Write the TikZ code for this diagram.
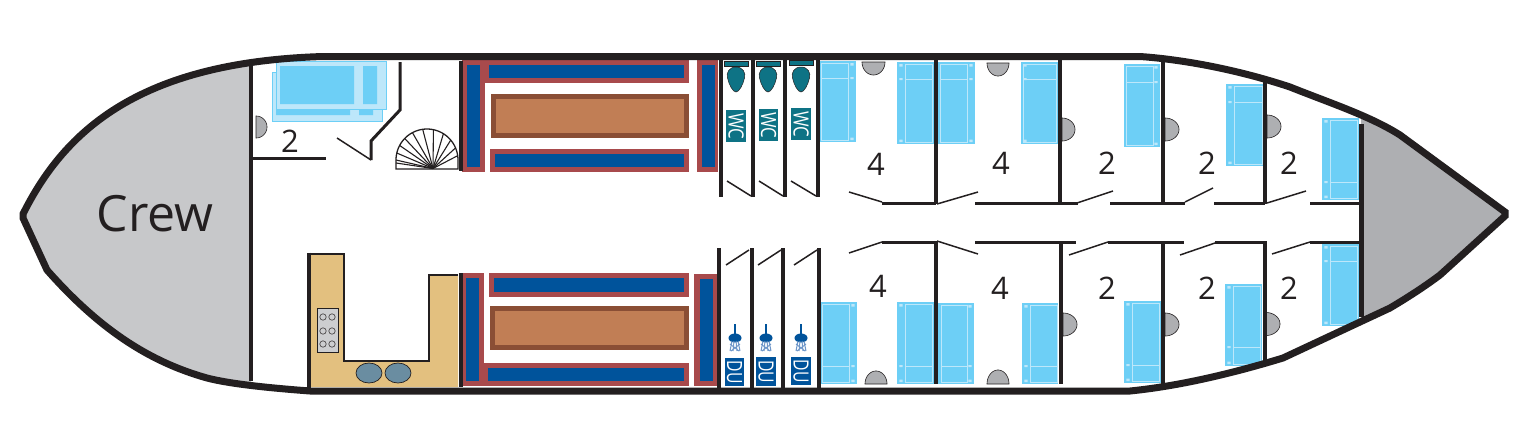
\documentclass[tikz,border=0pt]{standalone}
\usepackage{fontspec}
\setmainfont{Open Sans}
\definecolor{ink}{HTML}{231F20}
\definecolor{crewgrey}{HTML}{C7C8CA}
\definecolor{bowgrey}{HTML}{AEAFB2}
\definecolor{bedblue}{HTML}{6DCFF6}
\definecolor{bedpale}{HTML}{BDE7FA}
\definecolor{benchred}{HTML}{A84A4C}
\definecolor{cushion}{HTML}{00539B}
\definecolor{tableedge}{HTML}{8A4E35}
\definecolor{tabletop}{HTML}{C17E55}
\definecolor{teal}{HTML}{0E7385}
\definecolor{galley}{HTML}{E3C07F}
\definecolor{hob}{HTML}{CDCED0}
\definecolor{oven}{HTML}{6A8DA1}
\definecolor{spray}{HTML}{6F97C9}
\tikzset{
  hull/.style={draw=ink,line width=7pt,line join=miter},
  wall/.style={draw=ink,line width=4pt},
  door/.style={draw=ink,line width=1.5pt},
  partition/.style={draw=ink,line width=3pt},
  basin/.style={fill=bowgrey,draw=ink,line width=.6pt},
  num/.style={text=ink,font=\fontsize{31}{31}\selectfont,inner sep=0pt},
  tag/.style={text=white,font=\fontsize{21}{21}\selectfont,inner sep=0pt,rotate=-90},
}
\newcommand{\hullshape}{(23,214) .. controls (65,130) and (140,62) .. (323,56.5) -- (1140,56.5) .. controls (1190,60) and (1245,72) .. (1290,87) .. controls (1330,103) and (1370,116) .. (1400,135) -- (1505,212) -- (1505,216) -- (1440,275) .. controls (1420,290) and (1400,302) .. (1390,308) -- (1360,322) -- (1283,358) .. controls (1250,368) and (1190,385) .. (1130,391) -- (310,391) .. controls (270,388) and (230,384) .. (207,378) .. controls (150,362) and (100,330) .. (47,270) -- (23,218) -- cycle}
\newcommand{\bench}[8]{\fill[benchred] (#1,#2) rectangle (#3,#4); \fill[cushion] (#5,#6) rectangle (#7,#8);}
\newcommand{\tabletopbox}[8]{\fill[tableedge] (#1,#2) rectangle (#3,#4); \fill[tabletop] (#5,#6) rectangle (#7,#8);}
% bed: x1 y1 x2 y2 inner-x1 inner-x2 line-y strip-x
\newcommand{\bed}[8]{\fill[bedblue] (#1,#2) rectangle (#3,#4);
  \draw[bedpale,line width=1pt] (#5,{#2+2}) rectangle (#6,{#4-2}) (#5,#7) -- (#6,#7);
  \fill[bedpale] ({#8-1.7},{#2+2}) rectangle ({#8+1.7},{#2+4.5}) ({#8-1.7},{#7-1}) rectangle ({#8+1.7},{#7+1}) ({#8-1.7},{#4-4.5}) rectangle ({#8+1.7},{#4-2});}
% half ellipse: cx cy rx ry from to
\newcommand{\halfoval}[6]{\draw[basin] plot[domain=#5:#6,samples=30] ({#1+#3*cos(\x)},{#2+#4*sin(\x)}) -- cycle;}
\newcommand{\bowl}[2]{\fill[teal,draw=ink,line width=.5pt] (#1,#2) .. controls ({#1+7},#2) and ({#1+10},{#2+6}) .. ({#1+8.5},{#2+11}) .. controls ({#1+7},{#2+18}) and ({#1+3},{#2+25}) .. (#1,{#2+25}) .. controls ({#1-3},{#2+25}) and ({#1-7},{#2+18}) .. ({#1-8.5},{#2+11}) .. controls ({#1-10},{#2+6}) and ({#1-7},#2) .. (#1,#2) -- cycle;}
\newcommand{\shower}[1]{\fill[cushion] ({#1-1.3},324) rectangle ({#1+1.3},335);
  \fill[cushion] (#1,338) ellipse [x radius=6.5,y radius=4.5];
  \draw[spray,line width=1pt] ({#1-3},341) -- ({#1-5},351) ({#1-1},341) -- ({#1-2},351) ({#1+1},341) -- ({#1+2},351) ({#1+3},341) -- ({#1+5},351) ({#1-5},344) -- ({#1+4},351) ({#1+5},344) -- ({#1-4},351);}
\begin{document}
\begin{tikzpicture}[x=1pt,y=-1pt]
\useasboundingbox (0,0) rectangle (1532,426);
% hull compartments
\begin{scope}
  \clip (0,0) rectangle (251,426);
  \fill[crewgrey] \hullshape;
\end{scope}
\begin{scope}
  \clip (1361,0) rectangle (1532,426);
  \fill[bowgrey] \hullshape;
\end{scope}
% shower / bath unit
\fill[bedpale,draw=bedblue,line width=1pt] (272,72) rectangle (382,121);
\fill[bedblue] (276,109) rectangle (350,115) (359,109) rectangle (373,115);
\fill[bedpale,draw=bedblue,line width=1pt] (276,61) rectangle (386,109);
\fill[bedblue] (280,66) rectangle (354,104) (363,66) rectangle (377,104);
% galley
\fill[galley] (309,254) -- (344,254) -- (344,361) -- (429,361) -- (429,275) -- (458,275) -- (458,387) -- (309,387) -- cycle;
\draw[ink,line width=2pt] (309,254) -- (344,254) -- (344,361) -- (429,361) -- (429,275) -- (458,275);
\draw[wall] (309,252.5) -- (309,388);
\draw[fill=hob,draw=ink,line width=.8pt] (317,308) rectangle (338,352);
\foreach \py in {317,331,344}{\foreach \px in {323,332}{\draw[ink!80,line width=.7pt] (\px,\py) circle [radius=3.2];}}
\draw[fill=oven,draw=ink,line width=.7pt] (369,373) ellipse [x radius=13,y radius=10];
\draw[fill=oven,draw=ink,line width=.7pt] (398,373) ellipse [x radius=13,y radius=10];
% benches upper
\bench{462}{60}{485}{172}{467}{65}{480}{167}
\bench{485}{60}{689}{83}{489}{65}{684}{78}
\tabletopbox{491}{94}{689}{138}{496}{99}{684}{133}
\bench{490}{149}{689}{172}{495}{154}{684}{167}
\bench{697}{60}{718}{172}{702}{65}{715}{167}
% benches lower
\bench{463}{273}{484}{386}{466}{278}{479}{381}
\bench{484}{363}{689}{386}{488}{368}{684}{381}
\bench{489}{273}{689}{297}{494}{278}{684}{292}
\tabletopbox{490}{306}{689}{350}{495}{311}{684}{345}
\bench{694}{274}{717}{386}{700}{279}{713}{381}
% beds upper
\bed{819}{61}{856}{142}{821}{848}{78}{852}
\bed{897}{62}{935}{144}{905}{932}{79}{901}
\bed{937}{62}{975}{144}{940}{967}{79}{971}
\bed{1021}{62}{1058}{144}{1023}{1056}{79}{1025}
\bed{1124}{64}{1160}{147}{1126}{1153}{82}{1156}
\bed{1226}{84}{1263}{166}{1234}{1262}{102}{1230}
\bed{1322}{118}{1359}{200}{1330}{1357}{182}{1326}
% beds lower
\bed{820}{302}{857}{384}{822}{849}{366}{853}
\bed{897}{302}{935}{384}{905}{932}{366}{901}
\bed{938}{303}{974}{384}{941}{967}{366}{970}
\bed{1022}{303}{1058}{384}{1030}{1057}{366}{1026}
\bed{1124}{301}{1161}{383}{1132}{1159}{365}{1128}
\bed{1225}{284}{1262}{366}{1233}{1260}{347}{1229}
\bed{1322}{244}{1359}{326}{1330}{1357}{261}{1326}
% basins
\halfoval{256}{127}{11}{11}{-90}{90}
\halfoval{873.5}{62}{11.5}{13}{0}{180}
\halfoval{998}{63}{11}{13}{0}{180}
\halfoval{876}{384}{11}{13}{180}{360}
\halfoval{998}{384}{11}{14}{180}{360}
\halfoval{1062}{129.5}{13}{11.5}{-90}{90}
\halfoval{1165}{129.5}{14}{11.5}{-90}{90}
\halfoval{1267}{126.5}{14}{11.5}{-90}{90}
\halfoval{1063}{324.5}{14}{11.5}{-90}{90}
\halfoval{1165}{324.5}{14}{11.5}{-90}{90}
\halfoval{1266}{324}{14}{11.5}{-90}{90}
% spiral stair
\draw[ink,line width=1.3pt] (396,169) -- plot[domain=180:0,samples=40] ({427+31*cos(\x)},{160-31*sin(\x)}) -- (458,169) -- cycle;
\foreach \a in {8,23,40,58,78,98,118,136,152,167,180}{
  \draw[ink,line width=1.1pt] (433,168.5) -- ({427+31*cos(\a)},{160-31*sin(\a)});}
\draw[ink,line width=1.1pt] (433,168.5) -- (396,163);
% toilets
\foreach \cx/\ty in {736/61,768/61,801/60}{
  \fill[teal,draw=ink,line width=.8pt] ({\cx-12},\ty) rectangle ({\cx+12},{\ty+5});
  \bowl{\cx}{67}
}
\fill[teal] (726,110) rectangle (746,142);
\fill[teal] (759,109) rectangle (778,141);
\fill[teal] (791,108) rectangle (811,140);
\node[tag] (wca) at (736,126) {\scalebox{.8}[1]{WC}};
\node[tag] (wcb) at (768.5,125) {\scalebox{.8}[1]{WC}};
\node[tag] (wcc) at (801,124) {\scalebox{.8}[1]{WC}};
% showers
\shower{735}\shower{766}\shower{801}
\fill[cushion] (725,358) rectangle (744,386);
\fill[cushion] (756,357) rectangle (776,386);
\fill[cushion] (791,357) rectangle (811,385);
\node[tag] (dua) at (734.5,372) {\scalebox{.75}[1]{DU}};
\node[tag] (dub) at (766,371.5) {\scalebox{.75}[1]{DU}};
\node[tag] (duc) at (801,371) {\scalebox{.75}[1]{DU}};
% saloon and head walls
\draw[wall] (251,62) -- (251,381);
\draw[wall] (461,61) -- (461,171);
\draw[wall] (461,273) -- (461,387);
\foreach \wx in {721,753,785,817.5}{\draw[wall] (\wx,60) -- (\wx,197);}
\foreach \wx in {719,751.5,783,818.5}{\draw[wall] (\wx,248) -- (\wx,388);}
% fore cabin bulkheads
\draw[wall] (936,60) -- (936,204);
\draw[wall] (1060,60) -- (1060,204);
\draw[wall] (1163,60) -- (1163,204);
\draw[wall] (1265,80) -- (1265,204);
\draw[wall] (936,241) -- (936,384);
\draw[wall] (1061,241) -- (1061,384);
\draw[wall] (1163,241) -- (1163,387);
\draw[wall] (1265,241) -- (1265,361);
\draw[draw=ink,line width=5pt] (1361,124) -- (1361,317);
% corridor partitions
\foreach \xa/\xb in {882/936,975/1078,1110/1185,1214/1265,1310/1360}{\draw[partition] (\xa,203) -- (\xb,203);}
\foreach \xa/\xb in {882/936,975/1076,1108/1184,1215/1265,1310/1360}{\draw[partition] (\xa,242.5) -- (\xb,242.5);}
% doors
\draw[door] (727,181) -- (751,196);
\draw[door] (759,181) -- (783,196);
\draw[door] (791,181) -- (816,196);
\draw[door] (726,265) -- (749,250);
\draw[door] (758,265) -- (781,250);
\draw[door] (794,265) -- (817,250);
\draw[door] (849,192) -- (882,202);
\draw[door] (937,204) -- (978,192);
\draw[door] (1077,203) -- (1113,191);
\draw[door] (1185,202) -- (1213,188);
\draw[door] (1267,203) -- (1306,191);
\draw[door] (849,253) -- (882,242);
\draw[door] (937,241) -- (978,254);
\draw[door] (1069,255) -- (1108,242);
\draw[door] (1180,255) -- (1215,243);
\draw[door] (1272,254) -- (1310,242);
% aft cabin
\draw[partition] (253,158) -- (326,158);
\draw[partition,line join=miter] (400,62) -- (400,110) -- (371,141) -- (371,160);
\draw[door] (337,138) -- (371,160);
% hull outline
\draw[hull] \hullshape;
% labels
\node[text=ink,font=\fontsize{50}{50}\selectfont,inner sep=0pt] (crew) at (155,214) {Crew};
\node[num] (aft) at (290,141) {2};
\node[num] (ua) at (876,164) {4};
\node[num] (ub) at (1001,163) {4};
\node[num] (uc) at (1107,163) {2};
\node[num] (ud) at (1207,163) {2};
\node[num] (ue) at (1289,163) {2};
\node[num] (la) at (878,286) {4};
\node[num] (lb) at (1000,288) {4};
\node[num] (lc) at (1107,288) {2};
\node[num] (ld) at (1207,288) {2};
\node[num] (le) at (1289,288) {2};
\end{tikzpicture}
\end{document}
